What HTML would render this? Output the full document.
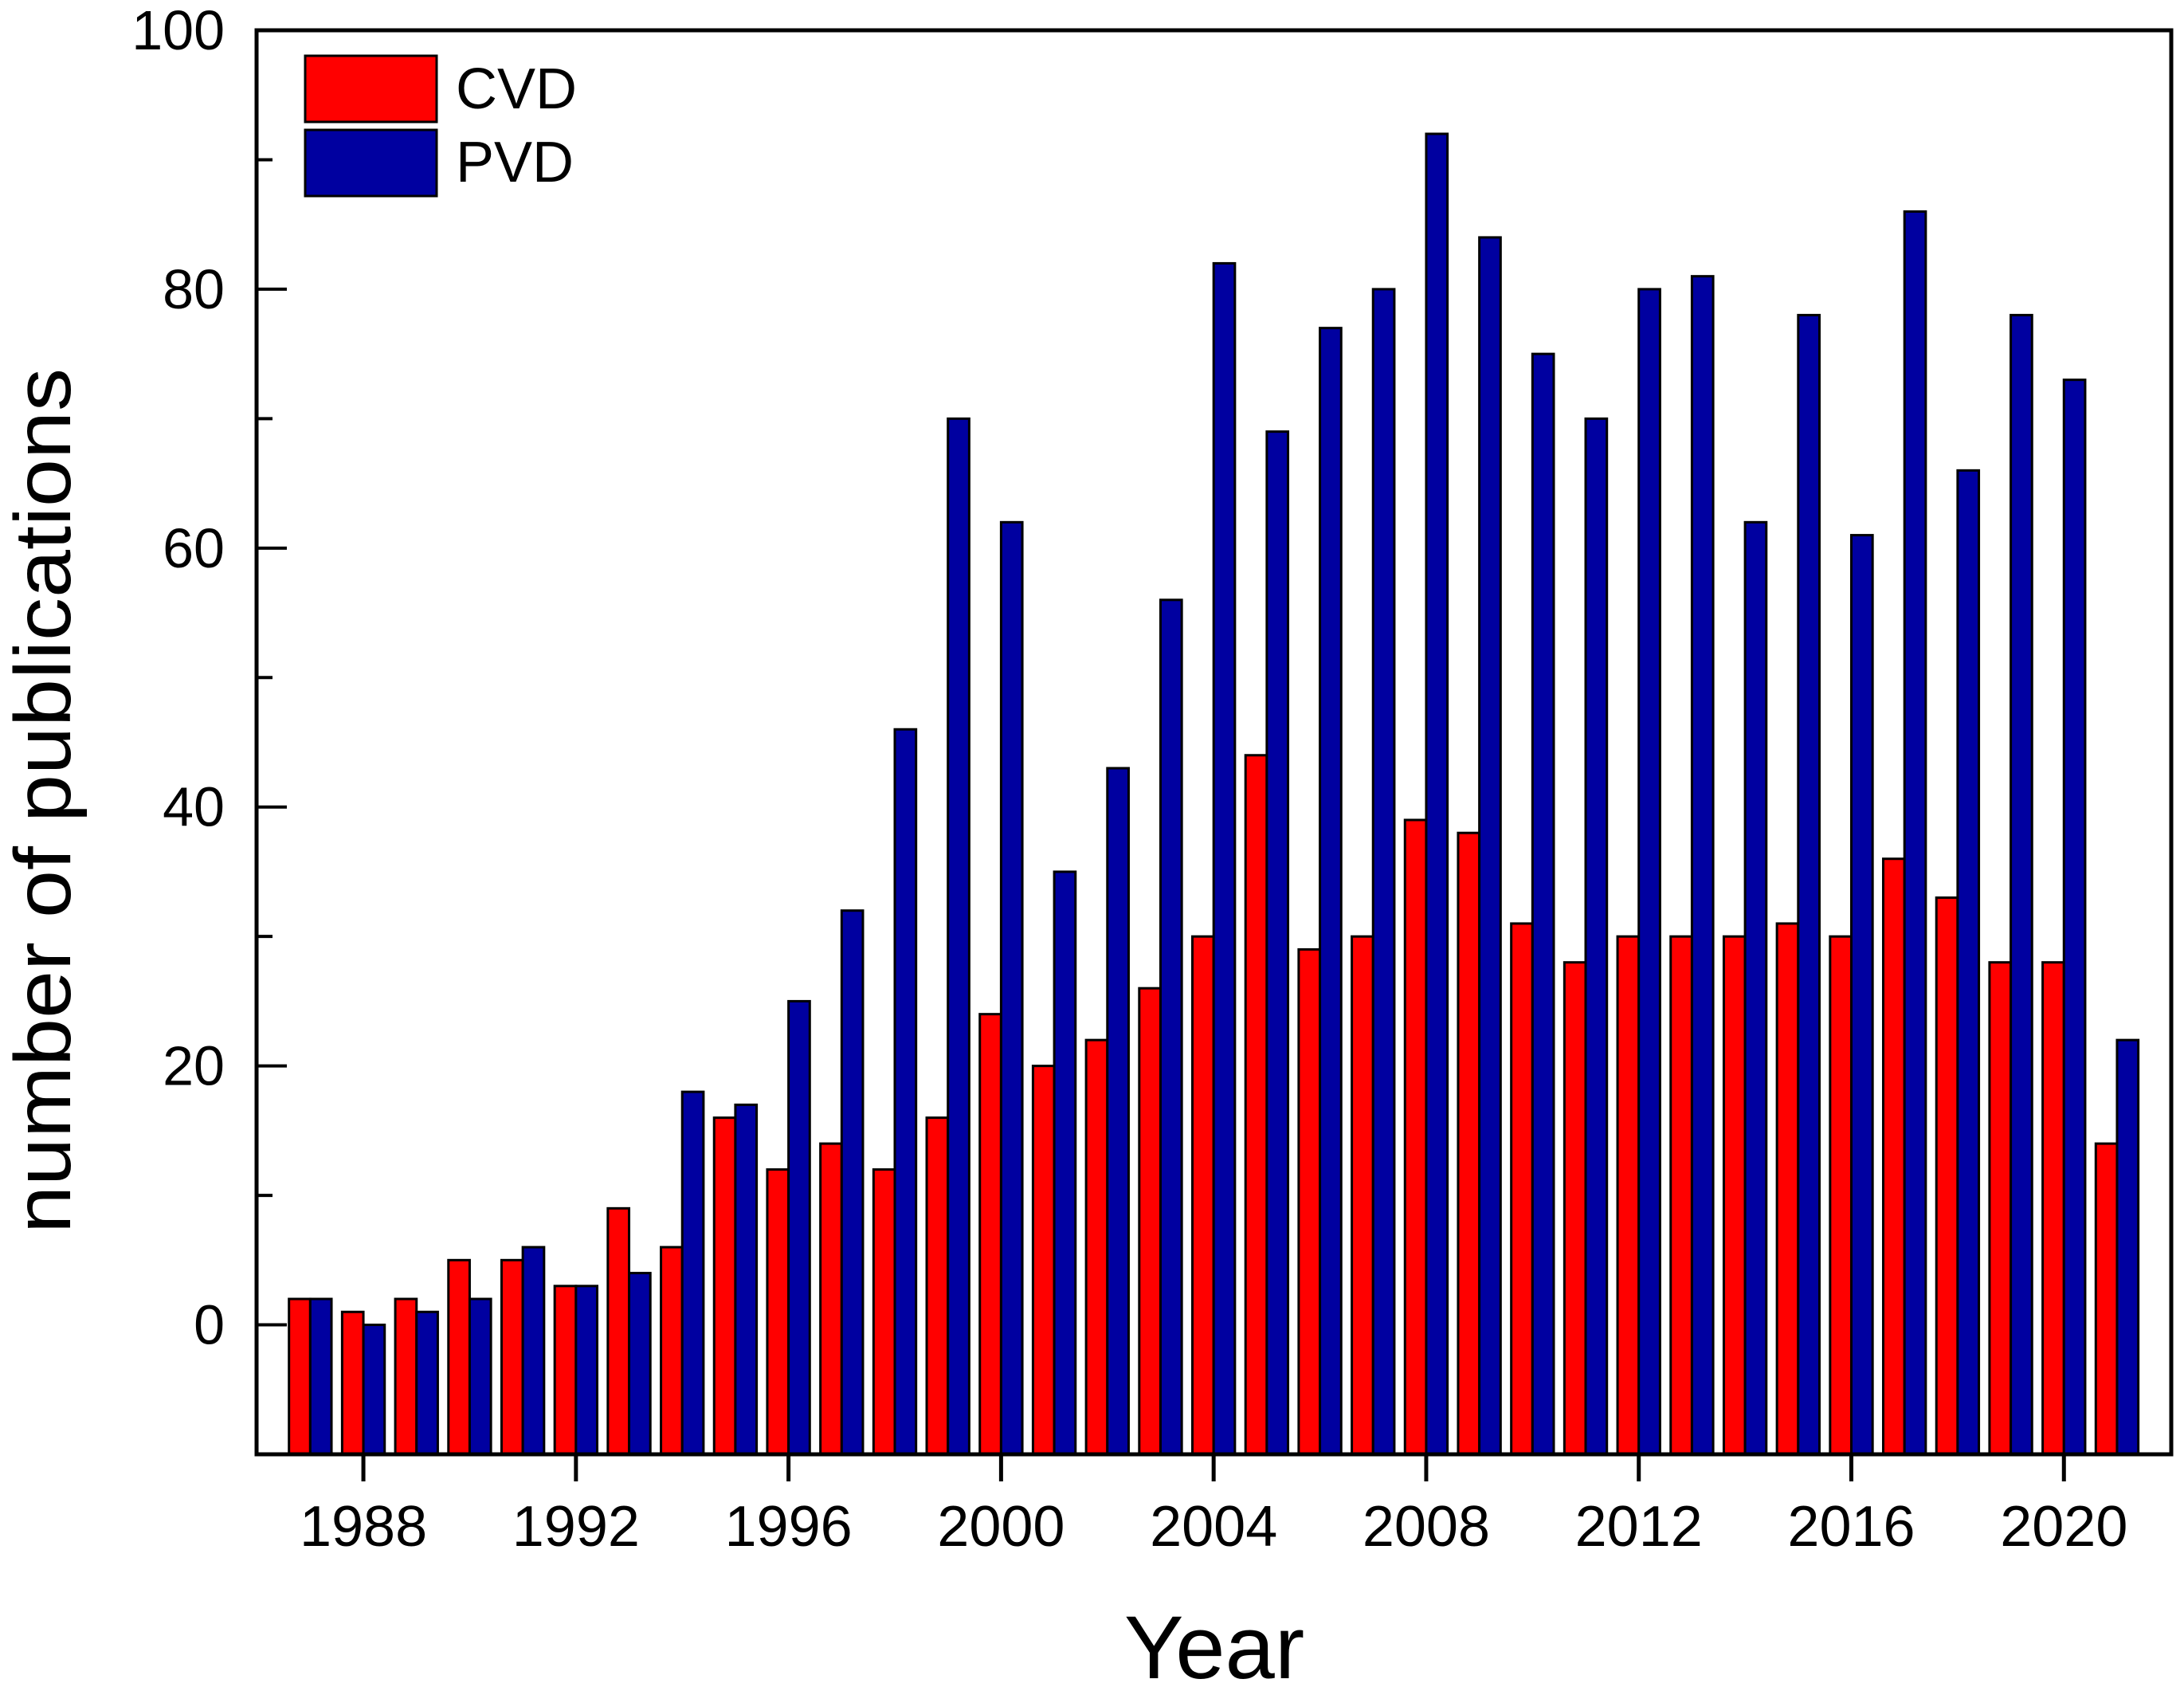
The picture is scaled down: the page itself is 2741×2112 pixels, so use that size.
<!DOCTYPE html>
<html><head><meta charset="utf-8"><style>
html,body{margin:0;padding:0;background:#fff;}
svg{display:block;font-family:"Liberation Sans",Arial,sans-serif;}
</style></head><body>
<svg id="chart" width="2741" height="2112" viewBox="0 0 2741 2112" xmlns="http://www.w3.org/2000/svg">
<rect x="0" y="0" width="2741" height="2112" fill="#fff"/>
<g id="bars"></g>
<g id="axes"></g>
<rect x="322" y="38" width="2403" height="1787" fill="none" stroke="#000" stroke-width="5"/>
<g>
<rect x="383" y="70" width="165" height="83" fill="#ff0000" stroke="#000" stroke-width="3"/>
<text x="572" y="136" font-size="72">CVD</text>
<rect x="383" y="163" width="165" height="83" fill="#0000a0" stroke="#000" stroke-width="3"/>
<text x="572" y="228" font-size="72">PVD</text>
</g>
<text transform="translate(88,1005) rotate(-90)" text-anchor="middle" font-size="100" textLength="1086" lengthAdjust="spacingAndGlyphs">number of publications</text>
<text x="1524" y="2106" text-anchor="middle" font-size="112">Year</text>
</svg>
<script>
const years = [1987,1988,1989,1990,1991,1992,1993,1994,1995,1996,1997,1998,1999,2000,2001,2002,2003,2004,2005,2006,2007,2008,2009,2010,2011,2012,2013,2014,2015,2016,2017,2018,2019,2020,2021];
const cvd = [2,1,2,5,5,3,9,6,16,12,14,12,16,24,20,22,26,30,44,29,30,39,38,31,28,30,30,30,31,30,36,33,28,28,14];
const pvd = [2,0,1,2,6,3,4,18,17,25,32,46,70,62,35,43,56,82,69,77,80,92,84,75,70,80,81,62,78,61,86,66,78,73,22];
const xTicks = [1988,1992,1996,2000,2004,2008,2012,2016,2020];
const yTicks = [0,20,40,60,80,100];
const yMinor = [10,30,50,70,90];

const NS = "http://www.w3.org/2000/svg";
const X0 = 322, X1 = 2725, Y0 = 38, Y1 = 1825;
const xMin = 1985.99, xMax = 2022.02, yMin = -10, yMax = 100;
function xs(v){ return X0 + (v - xMin) / (xMax - xMin) * (X1 - X0); }
function ys(v){ return Y1 - (v - yMin) / (yMax - yMin) * (Y1 - Y0); }
const BW = 0.4;
const barsG = document.getElementById('bars');
const axesG = document.getElementById('axes');
function mk(tag, attrs, parent){ const e = document.createElementNS(NS, tag); for (const k in attrs) e.setAttribute(k, attrs[k]); parent.appendChild(e); return e; }

years.forEach((yr, i) => {
  const r = mk('rect', {x: xs(yr - BW), y: ys(cvd[i]), width: xs(yr) - xs(yr - BW), height: Y1 - ys(cvd[i]), fill: '#ff0000', stroke: '#000', 'stroke-width': 3}, barsG);
  
  
  const b = mk('rect', {x: xs(yr), y: ys(pvd[i]), width: xs(yr + BW) - xs(yr), height: Y1 - ys(pvd[i]), fill: '#0000a0', stroke: '#000', 'stroke-width': 3}, barsG);
  
  
});

xTicks.forEach(t => {
  const l = mk('line', {x1: xs(t), x2: xs(t), y1: Y1, y2: Y1 + 34, stroke: '#000', 'stroke-width': 5}, axesG);
  
  
  const tx = mk('text', {x: xs(t), y: 1940, 'text-anchor': 'middle', 'font-size': 72}, axesG);
  tx.textContent = t;
  
  
});
yTicks.forEach(t => {
  const l = mk('line', {x1: X0, x2: X0 + 38, y1: ys(t), y2: ys(t), stroke: '#000', 'stroke-width': 4}, axesG);
  
  
  const tx = mk('text', {x: 282, y: ys(t) + 24, 'text-anchor': 'end', 'font-size': 70}, axesG);
  tx.textContent = t;
  
  
});
yMinor.forEach(t => {
  const l = mk('line', {x1: X0, x2: X0 + 20, y1: ys(t), y2: ys(t), stroke: '#000', 'stroke-width': 4}, axesG);
  
  
});
</script>
</body></html>
